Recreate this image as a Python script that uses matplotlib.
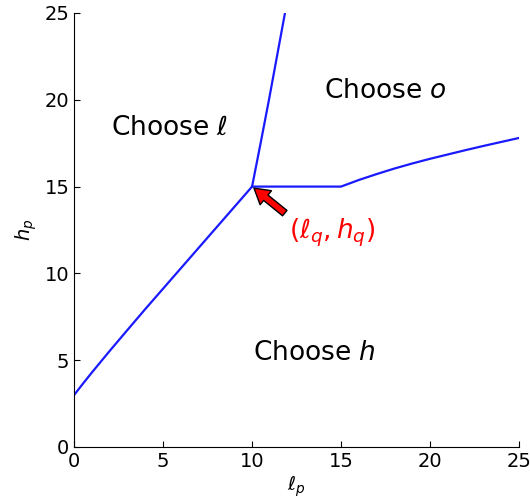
import numpy as np
import matplotlib.pyplot as plt
import matplotlib as mpl

mpl.rcParams['font.size'] = 14
mpl.rcParams['mathtext.fontset'] = 'dejavusans'

# boundary between "choose l" and "choose h"
lh_x = [0.0, 0.5, 1.0, 1.5, 2.0, 3.0, 4.0, 6.0, 8.0, 10.0]
lh_y = [3.0, 3.66, 4.3, 4.92, 5.54, 6.75, 7.95, 10.3, 12.65, 15.0]

# boundary between "choose l" and "choose o"
lo_x = [10.0, 10.48, 10.95, 11.4, 11.85]
lo_y = [15.0, 17.5, 20.0, 22.5, 25.0]

# boundary between "choose o" and "choose h"
oh_x = [10.0, 15.0, 16.0, 17.0, 18.0, 19.0, 20.0, 21.0, 22.0, 23.0, 24.0, 25.0]
oh_y = [15.0, 15.0, 15.38, 15.72, 16.04, 16.33, 16.6, 16.85, 17.1, 17.34, 17.57, 17.8]

region_labels = ['Choose $\\ell$', 'Choose $o$', 'Choose $h$']
region_pos = [(2.05, 18.4), (14.05, 20.5), (10.05, 5.4)]

q_point = (10.0, 15.0)

fig = plt.figure(figsize=(5.3, 5.0), dpi=100)
ax = fig.add_axes([0.14, 0.106, 0.839, 0.868])

for xs, ys in [(lh_x, lh_y), (lo_x, lo_y), (oh_x, oh_y)]:
    ax.plot(xs, ys, color='#1a1aff', lw=1.6)

for lab, (tx, ty) in zip(region_labels, region_pos):
    ax.text(tx, ty, lab, fontsize=19, ha='left', va='center')

ax.annotate('$(\\ell_q, h_q)$', xy=q_point, xytext=(12.1, 12.0),
            color='red', fontsize=19,
            arrowprops=dict(facecolor='red', edgecolor='black', shrink=0.05,
                            width=5, headwidth=13, headlength=11))

ax.set_xlim(0, 25)
ax.set_ylim(0, 25)
ax.set_xticks([0, 5, 10, 15, 20, 25])
ax.set_yticks([0, 5, 10, 15, 20, 25])
ax.spines['top'].set_visible(False)
ax.spines['right'].set_visible(False)
ax.tick_params(direction='in', length=4, top=False, right=False)
ax.set_xlabel('$\\ell_p$', fontsize=14, labelpad=2)
ax.set_ylabel('$h_p$', fontsize=14)

plt.savefig('out.png', dpi=100)
